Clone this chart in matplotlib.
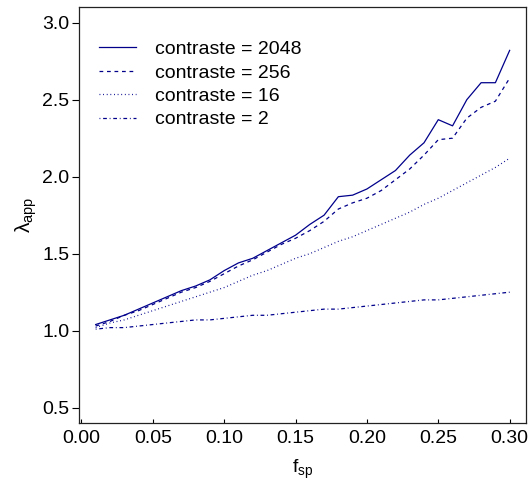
import numpy as np
import matplotlib
matplotlib.use("Agg")
import matplotlib.pyplot as plt

plt.rcParams['font.family'] = ['Liberation Sans', 'DejaVu Sans']
plt.rcParams['mathtext.fontset'] = 'custom'
plt.rcParams['mathtext.rm'] = 'Liberation Sans'
plt.rcParams['mathtext.it'] = 'Liberation Sans'

# f_sp values, 0.01 .. 0.30
f_sp = [0.01, 0.02, 0.03, 0.04, 0.05, 0.06, 0.07, 0.08, 0.09, 0.10,
        0.11, 0.12, 0.13, 0.14, 0.15, 0.16, 0.17, 0.18, 0.19, 0.20,
        0.21, 0.22, 0.23, 0.24, 0.25, 0.26, 0.27, 0.28, 0.29, 0.30]

lam_2048 = [1.04, 1.07, 1.10, 1.14, 1.18, 1.22, 1.26, 1.29, 1.33, 1.39,
            1.44, 1.47, 1.52, 1.57, 1.62, 1.69, 1.75, 1.87, 1.88, 1.92,
            1.98, 2.04, 2.14, 2.22, 2.37, 2.33, 2.50, 2.61, 2.61, 2.82]

lam_256 = [1.03, 1.06, 1.10, 1.13, 1.17, 1.21, 1.25, 1.28, 1.32, 1.37,
           1.42, 1.46, 1.51, 1.56, 1.60, 1.65, 1.71, 1.79, 1.83, 1.86,
           1.91, 1.98, 2.05, 2.14, 2.24, 2.25, 2.38, 2.45, 2.49, 2.64]

lam_16 = [1.02, 1.05, 1.07, 1.10, 1.13, 1.16, 1.19, 1.22, 1.25, 1.28,
          1.32, 1.36, 1.39, 1.43, 1.47, 1.50, 1.54, 1.58, 1.61, 1.65,
          1.69, 1.73, 1.77, 1.82, 1.86, 1.91, 1.96, 2.01, 2.06, 2.12]

lam_2 = [1.01, 1.02, 1.02, 1.03, 1.04, 1.05, 1.06, 1.07, 1.07, 1.08,
         1.09, 1.10, 1.10, 1.11, 1.12, 1.13, 1.14, 1.14, 1.15, 1.16,
         1.17, 1.18, 1.19, 1.20, 1.20, 1.21, 1.22, 1.23, 1.24, 1.25]

labels = ['contraste = 2048', 'contraste = 256', 'contraste = 16', 'contraste = 2']
xticks = [0.00, 0.05, 0.10, 0.15, 0.20, 0.25, 0.30]
yticks = [0.5, 1.0, 1.5, 2.0, 2.5, 3.0]

col = '#00008B'

fig = plt.figure(figsize=(5.31, 4.83), dpi=100)
ax = fig.add_axes([0.149, 0.124, 0.842, 0.861])

ax.plot(f_sp, lam_2048, color=col, lw=0.9, label=labels[0])
ax.plot(f_sp, lam_256, color=col, lw=0.9, dashes=(3, 3), label=labels[1])
ax.plot(f_sp, lam_16, color=col, lw=0.9, dashes=(0.7, 2.2), label=labels[2])
ax.plot(f_sp, lam_2, color=col, lw=0.9, dashes=(0.7, 2.2, 3, 2.2), label=labels[3])

ax.set_xlim(-0.0016, 0.3116)
ax.set_ylim(0.4, 3.1)
ax.set_xticks(xticks)
ax.set_xticklabels(['%.2f' % v for v in xticks])
ax.set_yticks(yticks)
ax.set_yticklabels(['%.1f' % v for v in yticks])

ax.tick_params(axis='x', direction='in', length=3, width=0.8, labelsize=14, pad=5)
ax.tick_params(axis='y', direction='out', length=5, width=0.8, labelsize=14, pad=2)
for s in ax.spines.values():
    s.set_linewidth(0.9)
    s.set_color('#222222')

ax.set_xlabel(r'$\mathrm{f}_{\mathrm{sp}}$', fontsize=14, labelpad=8)
ax.set_ylabel(r'$\lambda_{\mathrm{app}}$', fontsize=15, labelpad=2)

ax.legend(loc='upper left', frameon=False, fontsize=14, handlelength=1.9,
          handletextpad=0.95, labelspacing=0.3, borderaxespad=0.0, borderpad=0.0,
          bbox_to_anchor=(0.045, 0.92))

fig.savefig('out.png', dpi=100)
